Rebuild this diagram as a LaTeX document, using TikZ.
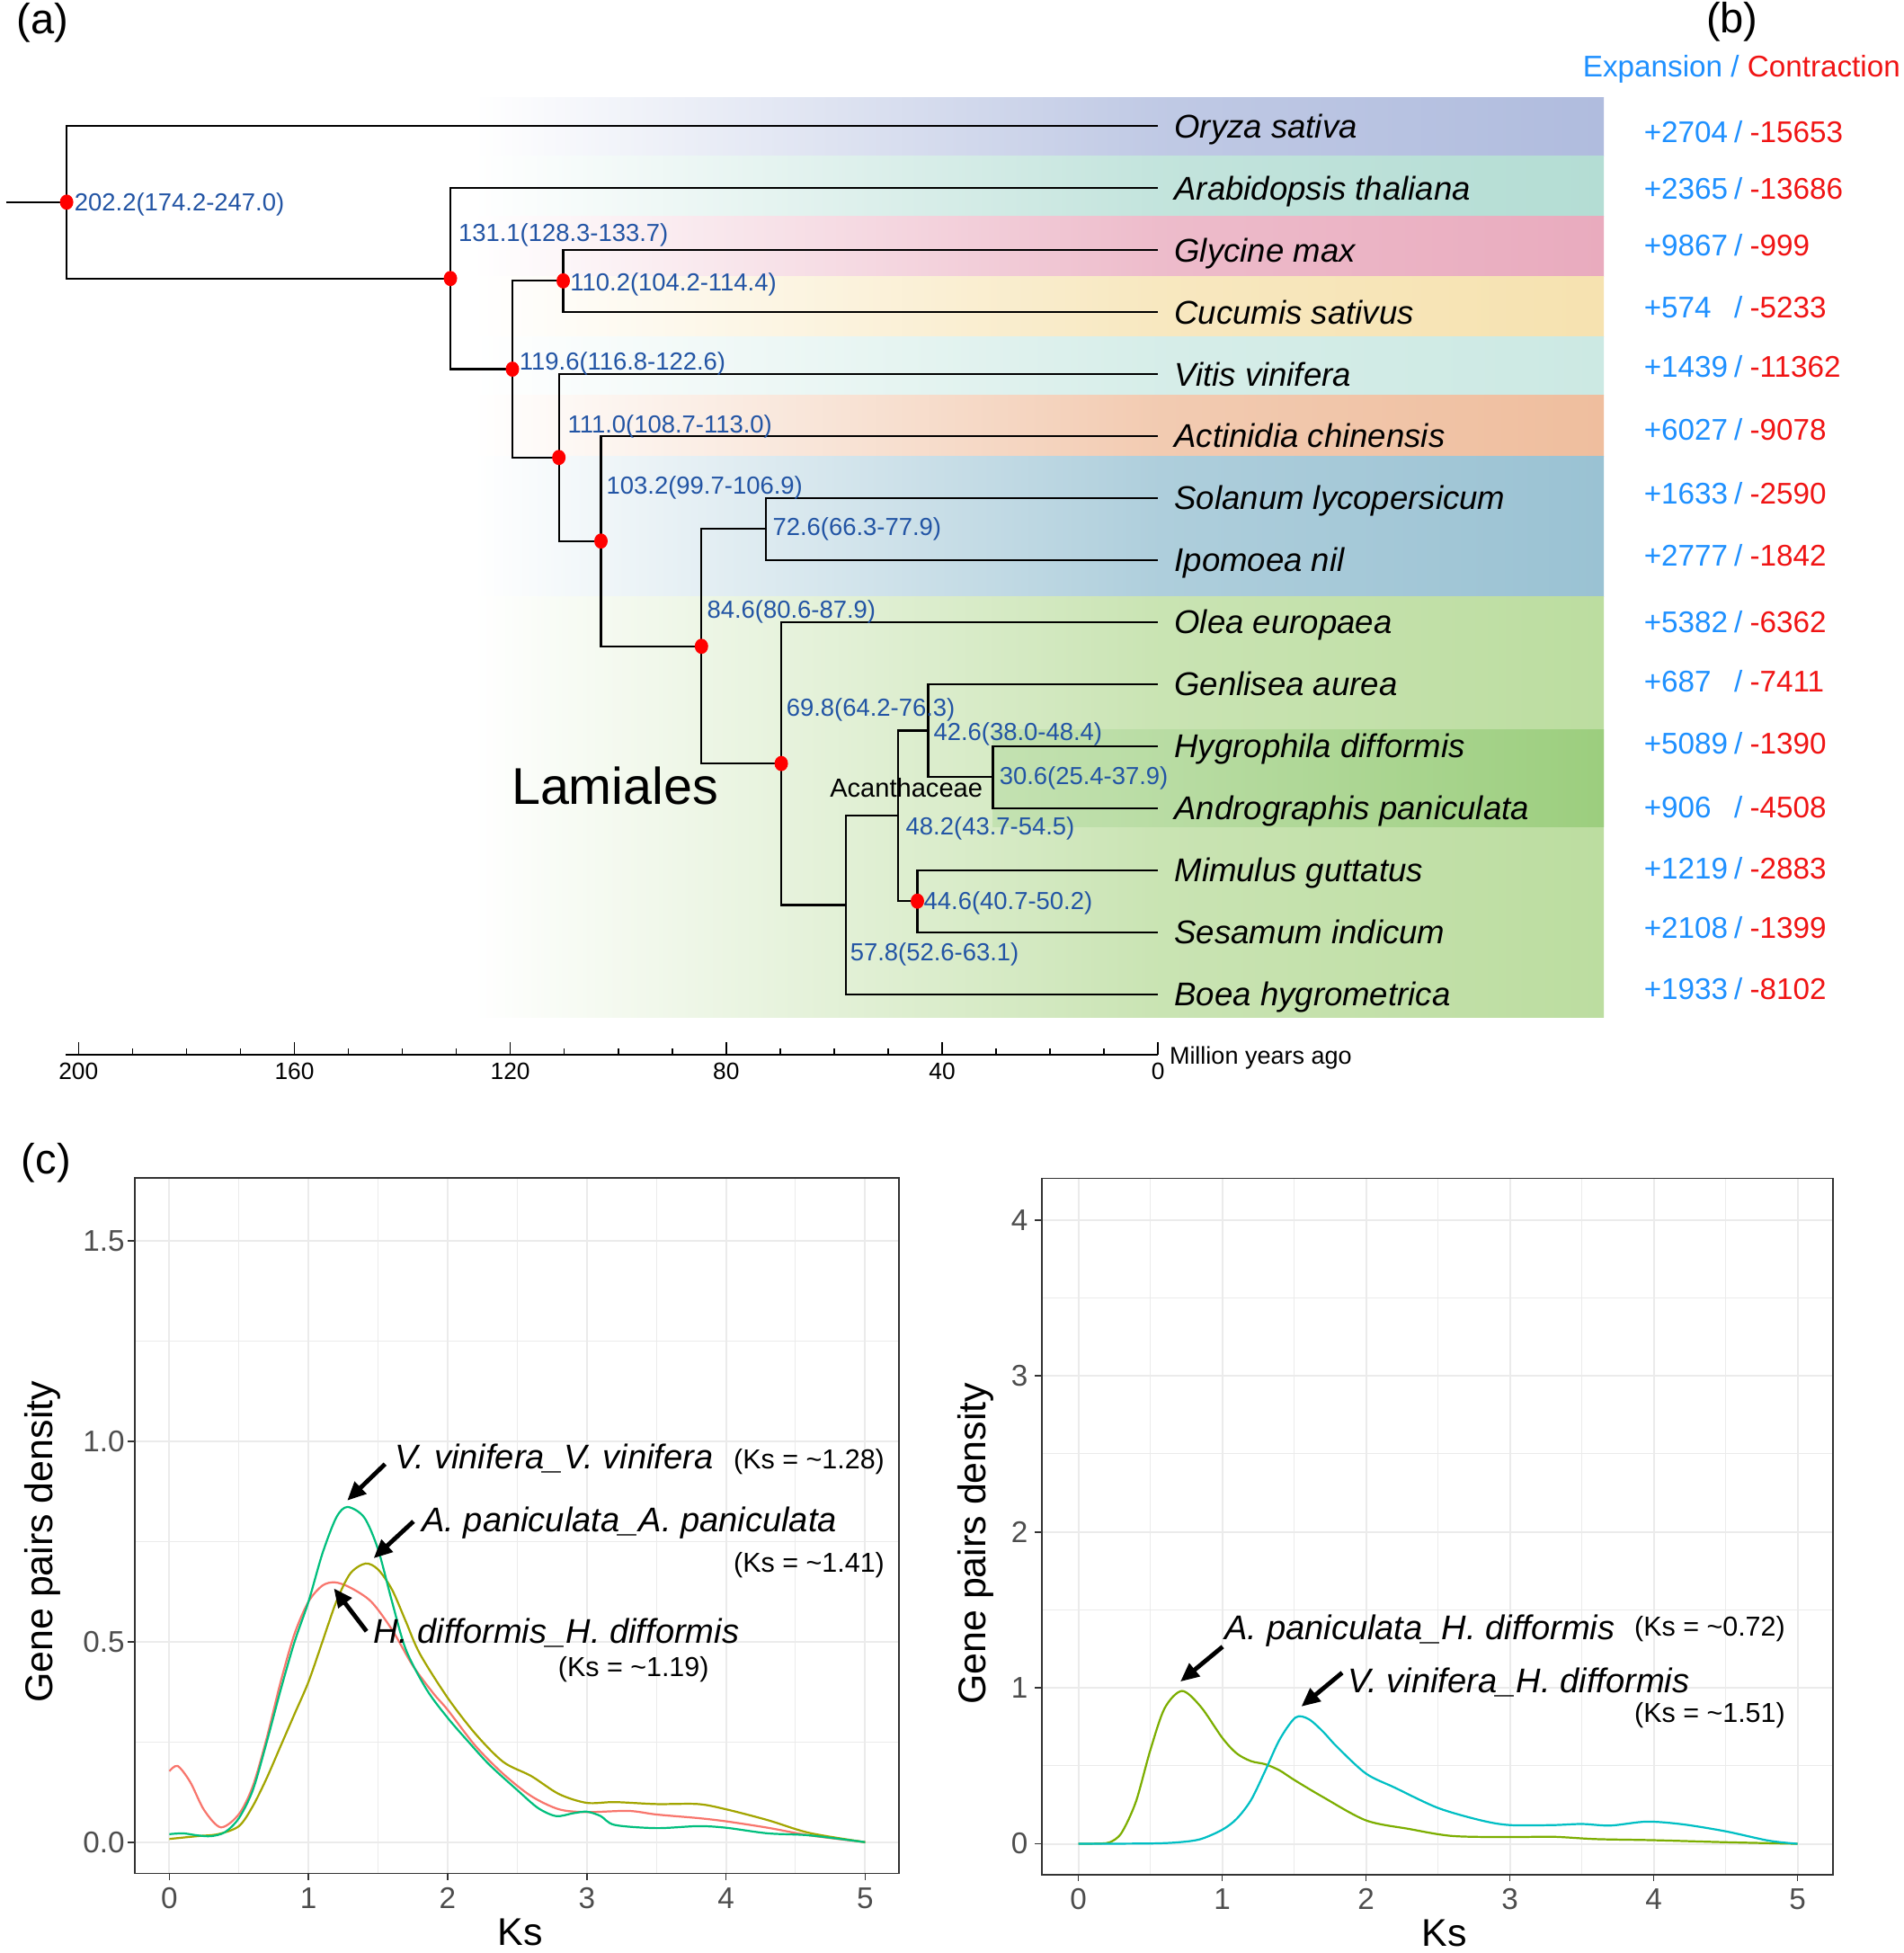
\documentclass[tikz,border=0pt]{standalone}
\usepackage{fontspec}
\setmainfont{Liberation Sans}
\usetikzlibrary{arrows.meta}
\definecolor{agecol}{RGB}{34,84,164}
\definecolor{expcol}{RGB}{30,144,255}
\definecolor{concol}{RGB}{240,20,20}
\definecolor{dotred}{RGB}{255,0,0}
\definecolor{bOry}{RGB}{176,188,222}
\definecolor{bAra}{RGB}{180,221,212}
\definecolor{bGly}{RGB}{233,171,190}
\definecolor{bCuc}{RGB}{246,226,176}
\definecolor{bVit}{RGB}{204,233,227}
\definecolor{bAct}{RGB}{239,190,158}
\definecolor{bSol}{RGB}{154,194,211}
\definecolor{bLam}{RGB}{188,221,160}
\definecolor{bAca}{RGB}{156,206,126}
\definecolor{gridc}{RGB}{235,235,235}
\definecolor{bordc}{RGB}{51,51,51}
\definecolor{tickc}{RGB}{77,77,77}
\definecolor{cRed}{HTML}{F8766D}
\definecolor{cOli}{HTML}{A3A500}
\definecolor{cGre}{HTML}{00BF7D}
\definecolor{cLim}{HTML}{7CAE00}
\definecolor{cCya}{HTML}{00BFC4}
\newcommand\myfs[1]{\fontsize{#1}{#1}\selectfont}
\tikzset{
 branch/.style={line width=1.6pt, black},
 agelab/.style={anchor=base west, inner sep=0pt, text=agecol, font=\myfs{19.8}},
 sp/.style={anchor=base west, inner sep=0pt, font=\myfs{26.4}\itshape},
 expn/.style={anchor=base west, inner sep=0pt, text=expcol, font=\myfs{24}},
 slsh/.style={anchor=base, inner sep=0pt, text=expcol, font=\myfs{24}},
 conn/.style={anchor=base west, inner sep=0pt, text=concol, font=\myfs{24}},
 panlab/.style={inner sep=0pt, font=\myfs{34}},
 axlab/.style={anchor=base, inner sep=0pt, font=\myfs{19}},
 grmaj/.style={draw=gridc, line width=1.4pt},
 grmin/.style={draw=gridc, line width=0.7pt},
 pbox/.style={draw=bordc, line width=1.2pt},
 ptick/.style={draw=bordc, line width=1.2pt},
 ticklab/.style={inner sep=0pt, text=tickc, font=\myfs{24}},
 axtitle/.style={inner sep=0pt, font=\myfs{31}},
 dens/.style={line width=1.6pt},
 annot/.style={anchor=base west, inner sep=0pt, font=\myfs{27.5}\itshape},
 ksnote/.style={anchor=base west, inner sep=0pt, font=\myfs{22}},
 pointer/.style={line width=3.5pt, -{Triangle[length=15pt,width=13pt]}},
}
\begin{document}
\begin{tikzpicture}[x=1pt,y=-1pt]
\fill[white] (0,0) rectangle (1529,1568);
\useasboundingbox (0,0) rectangle (1529,1568);

% ---------- colored bands ----------
\foreach \ya/\yb/\cc in {78.1/125.1/bOry, 125.1/173.4/bAra, 173.4/221.8/bGly, 221.8/270.1/bCuc, 270.1/317.6/bVit, 317.6/366.3/bAct, 366.3/478.8/bSol, 478.8/816.5/bLam}{
  \shade[left color=white, right color=\cc!80] (380,\ya) rectangle (930.5,\yb);
  \shade[left color=\cc!80, right color=\cc] (930,\ya) rectangle (1288,\yb);
}
\shade[left color=bAca!60, right color=bAca] (797,585.5) rectangle (1288,663.6);

% ---------- panel labels ----------
\node[panlab] (pa) at (34,18) {(a)};
\node[panlab] (pb) at (1391,17.4) {(b)};
\node[panlab] (pc) at (37,934) {(c)};
\node[anchor=base west, inner sep=0pt, font=\myfs{24}] (hdr) at (1271,61.9) {\textcolor{expcol}{Expansion / }\textcolor{concol}{Contraction}};

% ---------- tree coordinates ----------
\coordinate (t1) at (930,101);
\coordinate (t2) at (930,150.8);
\coordinate (t3) at (930,200.6);
\coordinate (t4) at (930,250.4);
\coordinate (t5) at (930,300.2);
\coordinate (t6) at (930,350);
\coordinate (t7) at (930,399.8);
\coordinate (t8) at (930,449.6);
\coordinate (t9) at (930,499.4);
\coordinate (t10) at (930,549.2);
\coordinate (t11) at (930,599);
\coordinate (t12) at (930,648.8);
\coordinate (t13) at (930,698.6);
\coordinate (t14) at (930,748.4);
\coordinate (t15) at (930,798.2);
\coordinate (r0) at (5,162.3);
\coordinate (nr) at (53.5,162.3);
\coordinate (na) at (361.7,223.6);
\coordinate (nb) at (411.5,296.4);
\coordinate (nc) at (452.3,225.5);
\coordinate (nd) at (448.8,367.3);
\coordinate (ne) at (482.6,434.4);
\coordinate (nf) at (563.3,518.9);
\coordinate (ng) at (615.3,424.7);
\coordinate (nh) at (627.4,613.0);
\coordinate (ni) at (679.4,726.6);
\coordinate (nj) at (721.0,655.0);
\coordinate (nk) at (745.3,586.6);
\coordinate (nl) at (797.3,623.9);
\coordinate (nm) at (736.7,723.5);

\draw[branch] (r0) -- (nr);
\foreach \pa/\ch in {nr/t1, nr/na, na/t2, na/nb, nb/nc, nb/nd, nc/t3, nc/t4, nd/t5, nd/ne, ne/t6, ne/nf, nf/ng, nf/nh, ng/t7, ng/t8, nh/t9, nh/ni, ni/nj, ni/t15, nj/nk, nj/nm, nk/t10, nk/nl, nl/t11, nl/t12, nm/t13, nm/t14}
  \draw[branch] (\pa) |- (\ch);

\foreach \q in {nr,na,nc,nb,nd,ne,nf,nh,nm}
  \fill[dotred] (\q) ellipse (5.4 and 6.1);

% ---------- age labels ----------
\node[agelab] (lr) at (59.7,169.4) {202.2(174.2-247.0)};
\node[agelab] (la) at (368,193.7) {131.1(128.3-133.7)};
\node[agelab] (lc) at (457.8,233.5) {110.2(104.2-114.4)};
\node[agelab] (lb) at (417,297.3) {119.6(116.8-122.6)};
\node[agelab] (ld) at (455.8,347.4) {111.0(108.7-113.0)};
\node[agelab] (le) at (486.9,396.5) {103.2(99.7-106.9)};
\node[agelab] (lg) at (620.3,430.2) {72.6(66.3-77.9)};
\node[agelab] (lf) at (567.6,496.1) {84.6(80.6-87.9)};
\node[agelab] (lh) at (631.3,574.7) {69.8(64.2-76.3)};
\node[agelab] (lk) at (749.5,594.4) {42.6(38.0-48.4)};
\node[agelab] (ll) at (802.4,630.2) {30.6(25.4-37.9)};
\node[agelab] (lj) at (727.3,670.1) {48.2(43.7-54.5)};
\node[agelab] (lm) at (741.7,730.2) {44.6(40.7-50.2)};
\node[agelab] (li) at (682.6,771.1) {57.8(52.6-63.1)};
\node[anchor=base west, inner sep=0pt, font=\myfs{21}] (aca) at (666.3,639.7) {Acanthaceae};
\node[anchor=base west, inner sep=0pt, font=\myfs{41.5}] (lam) at (410.6,645.8) {Lamiales};

% ---------- species names ----------
\node[sp] (sp1) at (943,110.5) {Oryza sativa};
\node[sp] (sp2) at (943,160.3) {Arabidopsis thaliana};
\node[sp] (sp3) at (943,210.1) {Glycine max};
\node[sp] (sp4) at (943,259.9) {Cucumis sativus};
\node[sp] (sp5) at (943,309.7) {Vitis vinifera};
\node[sp] (sp6) at (943,359.5) {Actinidia chinensis};
\node[sp] (sp7) at (943,409.3) {Solanum lycopersicum};
\node[sp] (sp8) at (943,459.1) {Ipomoea nil};
\node[sp] (sp9) at (943,508.9) {Olea europaea};
\node[sp] (sp10) at (943,558.7) {Genlisea aurea};
\node[sp] (sp11) at (943,608.5) {Hygrophila difformis};
\node[sp] (sp12) at (943,658.3) {Andrographis paniculata};
\node[sp] (sp13) at (943,708.1) {Mimulus guttatus};
\node[sp] (sp14) at (943,757.9) {Sesamum indicum};
\node[sp] (sp15) at (943,807.7) {Boea hygrometrica};

% ---------- expansion / contraction ----------
\foreach \k/\yy/\ev/\cv in {1/114.4/+2704/-15653, 2/159.9/+2365/-13686, 3/205.5/+9867/-999, 4/255.2/+574/-5233, 5/303.0/+1439/-11362, 6/353.3/+6027/-9078, 7/404.4/+1633/-2590, 8/454.2/+2777/-1842, 9/507.8/+5382/-6362, 10/555.6/+687/-7411, 11/605.3/+5089/-1390, 12/656.9/+906/-4508, 13/705.9/+1219/-2883, 14/753.4/+2108/-1399, 15/802.5/+1933/-8102}{
  \node[expn] (ex\k) at (1320,\yy) {\ev};
  \node[slsh] (sl\k) at (1396,\yy) {/};
  \node[conn] (co\k) at (1405,\yy) {\cv};
}

% ---------- time axis ----------
\coordinate (axL) at (53,847);
\coordinate (axR) at (930,847);
\draw[line width=1.6pt] (axL) -- (axR);
\foreach \t in {0,10,...,200}{
  \pgfmathsetmacro\xx{930-4.335*\t}
  \draw[line width=1.1pt] (\xx,847) -- (\xx,842);
}
\foreach \t in {0,40,...,200}{
  \pgfmathsetmacro\xx{930-4.335*\t}
  \draw[line width=1.1pt] (\xx,847) -- (\xx,837);
  \node[axlab] (ax\t) at (\xx,866.8) {\t};
}
\node[anchor=base west, inner sep=0pt, font=\myfs{19.5}] (mya) at (939,854.3) {Million years ago};

% ---------- left density plot ----------
\begin{scope}[shift={(136,1479)}, x=111.75pt, y=321.9pt]
  \foreach \v in {0.25,0.75,1.25} \draw[grmin] (-0.2479,\v) -- (5.2438,\v);
  \foreach \u in {0.5,1.5,...,4.5} \draw[grmin] (\u,-0.0777) -- (\u,1.657);
  \foreach \v in {0,0.5,1,1.5} \draw[grmaj] (-0.2479,\v) -- (5.2438,\v);
  \foreach \u in {0,...,5} \draw[grmaj] (\u,-0.0777) -- (\u,1.657);
  \draw[dens, cRed] plot[smooth, tension=0.5] coordinates {(0,0.177) (0.06,0.19) (0.15,0.15) (0.25,0.08) (0.37,0.037) (0.5,0.07) (0.6,0.14) (0.7,0.26) (0.8,0.4) (0.9,0.52) (1.0,0.6) (1.1,0.64) (1.19,0.648) (1.3,0.635) (1.45,0.6) (1.6,0.53) (1.75,0.44) (1.9,0.37) (2.0,0.33) (2.2,0.24) (2.4,0.17) (2.6,0.115) (2.8,0.082) (3.0,0.075) (3.3,0.078) (3.5,0.069) (3.8,0.06) (4.0,0.052) (4.3,0.036) (4.6,0.017) (5,0)};
  \draw[dens, cOli] plot[smooth, tension=0.5] coordinates {(0,0.008) (0.2,0.015) (0.35,0.02) (0.5,0.04) (0.6,0.09) (0.7,0.16) (0.8,0.24) (0.9,0.32) (1.0,0.4) (1.1,0.5) (1.2,0.6) (1.3,0.67) (1.41,0.695) (1.5,0.68) (1.6,0.63) (1.7,0.55) (1.8,0.47) (2.0,0.36) (2.2,0.27) (2.4,0.2) (2.6,0.165) (2.8,0.12) (3.0,0.098) (3.2,0.1) (3.5,0.095) (3.8,0.095) (4.0,0.082) (4.3,0.055) (4.6,0.023) (5,0)};
  \draw[dens, cGre] plot[smooth, tension=0.5] coordinates {(0,0.02) (0.1,0.022) (0.2,0.017) (0.3,0.015) (0.4,0.025) (0.5,0.06) (0.6,0.13) (0.7,0.25) (0.8,0.38) (0.9,0.5) (1.0,0.6) (1.1,0.72) (1.2,0.81) (1.28,0.836) (1.4,0.81) (1.5,0.73) (1.6,0.6) (1.7,0.48) (1.85,0.38) (2.0,0.31) (2.15,0.25) (2.3,0.193) (2.5,0.13) (2.65,0.085) (2.78,0.065) (2.9,0.072) (3.0,0.076) (3.1,0.065) (3.2,0.043) (3.5,0.035) (3.8,0.04) (4.0,0.036) (4.3,0.022) (4.6,0.017) (5,0)};
  \draw[pbox] (-0.2479,-0.0777) rectangle (5.2438,1.657);
  \foreach \v/\t in {0/0.0,0.5/0.5,1/1.0,1.5/1.5}{
    \draw[ptick] (-0.2479,\v) -- ++(-5.5pt,0pt);
    \node[ticklab, anchor=east, xshift=-8pt] (ly\t) at (-0.2479,\v) {\t};
  }
  \foreach \u in {0,...,5}{
    \draw[ptick] (\u,-0.0777) -- ++(0pt,-5.5pt);
    \node[ticklab, anchor=north, yshift=-11.4pt] (lx\u) at (\u,-0.0777) {\u};
  }
  \coordinate (vvT) at (1.55,0.943);  \coordinate (vvH) at (1.278,0.852);
  \coordinate (apT) at (1.754,0.80);  \coordinate (apH) at (1.468,0.708);
  \coordinate (hdT) at (1.417,0.526); \coordinate (hdH) at (1.182,0.633);
  \draw[pointer] (vvT) -- (vvH);
  \draw[pointer] (apT) -- (apH);
  \draw[pointer] (hdT) -- (hdH);
\end{scope}
\node[axtitle, rotate=90] (ylabL) at (34.5,1238) {Gene pairs density};
\node[axtitle] (xlabL) at (418,1551) {Ks};
\node[annot] (anVV) at (317,1179.5) {V. vinifera\_V. vinifera};
\node[ksnote] (ksVV) at (589,1179) {(Ks = \textasciitilde1.28)};
\node[annot] (anAP) at (338.6,1230) {A. paniculata\_A. paniculata};
\node[ksnote] (ksAP) at (589,1262.2) {(Ks = \textasciitilde1.41)};
\node[annot] (anHD) at (300,1319.5) {H. difformis\_H. difformis};
\node[ksnote] (ksHD) at (448,1345.8) {(Ks = \textasciitilde1.19)};

% ---------- right density plot ----------
\begin{scope}[shift={(866,1480.3)}, x=115.5pt, y=125.2pt]
  \foreach \v in {0.5,1.5,2.5,3.5} \draw[grmin] (-0.2545,\v) -- (5.2468,\v);
  \foreach \u in {0.5,1.5,...,4.5} \draw[grmin] (\u,-0.197) -- (\u,4.2676);
  \foreach \v in {0,...,4} \draw[grmaj] (-0.2545,\v) -- (5.2468,\v);
  \foreach \u in {0,...,5} \draw[grmaj] (\u,-0.197) -- (\u,4.2676);
  \draw[dens, cLim] plot[smooth, tension=0.5] coordinates {(0,0) (0.15,0.002) (0.22,0.01) (0.3,0.07) (0.4,0.27) (0.5,0.6) (0.6,0.87) (0.72,0.98) (0.85,0.88) (1.0,0.68) (1.1,0.58) (1.2,0.53) (1.3,0.51) (1.4,0.47) (1.5,0.41) (1.7,0.3) (2.0,0.15) (2.3,0.095) (2.6,0.05) (3.0,0.043) (3.3,0.045) (3.6,0.03) (4.0,0.023) (4.5,0.01) (5,0)};
  \draw[dens, cCya] plot[smooth, tension=0.5] coordinates {(0,0) (0.5,0.002) (0.7,0.01) (0.85,0.03) (1.0,0.09) (1.1,0.16) (1.2,0.28) (1.3,0.47) (1.4,0.67) (1.51,0.81) (1.6,0.8) (1.7,0.72) (1.8,0.62) (2.0,0.45) (2.2,0.36) (2.5,0.23) (2.8,0.15) (3.0,0.12) (3.3,0.12) (3.5,0.127) (3.7,0.117) (3.95,0.142) (4.2,0.125) (4.5,0.08) (4.8,0.02) (5,0)};
  \draw[pbox] (-0.2545,-0.197) rectangle (5.2468,4.2676);
  \foreach \v in {0,...,4}{
    \draw[ptick] (-0.2545,\v) -- ++(-5.5pt,0pt);
    \node[ticklab, anchor=east, xshift=-11pt] (ry\v) at (-0.2545,\v) {\v};
  }
  \foreach \u in {0,...,5}{
    \draw[ptick] (\u,-0.197) -- ++(0pt,-5.5pt);
    \node[ticklab, anchor=north, yshift=-11.4pt] (rx\u) at (\u,-0.197) {\u};
  }
  \coordinate (ahT) at (1.003,1.264); \coordinate (ahH) at (0.709,1.040);
  \coordinate (vhT) at (1.834,1.097); \coordinate (vhH) at (1.55,0.88);
  \draw[pointer] (ahT) -- (ahH);
  \draw[pointer] (vhT) -- (vhH);
\end{scope}
\node[axtitle, rotate=90] (ylabR) at (783.5,1239.4) {Gene pairs density};
\node[axtitle] (xlabR) at (1160,1552) {Ks};
\node[annot] (anAH) at (983.4,1316.3) {A. paniculata\_H. difformis};
\node[ksnote] (ksAH) at (1312.3,1313.2) {(Ks = \textasciitilde0.72)};
\node[annot] (anVH) at (1082,1359) {V. vinifera\_H. difformis};
\node[ksnote] (ksVH) at (1312.3,1383.1) {(Ks = \textasciitilde1.51)};
\end{tikzpicture}
\end{document}
